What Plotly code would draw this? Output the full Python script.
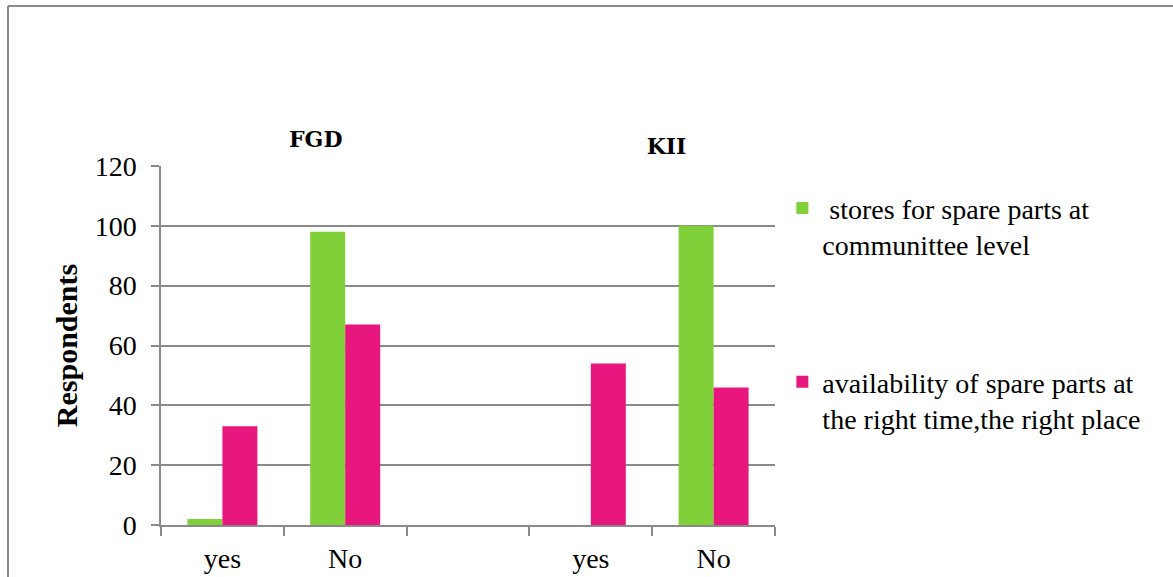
import plotly.graph_objects as go

categories = ["yes", "No", "", "yes", "No"]
positions = [0, 1, 2, 3, 4]
stores = [2, 98, None, 0, 100]
availability = [33, 67, None, 54, 46]
series_names = [" stores for spare parts at<br>communittee level",
                "availability of spare parts at<br>the right time,the right place"]
y_ticks = [0, 20, 40, 60, 80, 100, 120]

GREEN = "#80D03A"
PINK = "#E8177D"
GRID = "#8A8A8A"
FONT = "Liberation Serif, Times New Roman, serif"

fig = go.Figure()
fig.add_trace(go.Bar(x=positions, y=stores, name=series_names[0],
                     marker=dict(color=GREEN, line=dict(width=0)), legendgroup="a"))
fig.add_trace(go.Bar(x=positions, y=availability, name=series_names[1],
                     marker=dict(color=PINK, line=dict(width=0)), legendgroup="b"))

fig.update_layout(
    width=1173, height=577,
    margin=dict(l=161, r=398, t=166, b=52, autoexpand=False),
    paper_bgcolor="white", plot_bgcolor="white",
    barmode="group", bargap=0.43, bargroupgap=0,
    font=dict(family=FONT, size=28, color="black"),
    showlegend=True,
    legend=dict(x=1.012, xanchor="left", y=0.952, yanchor="top",
                valign="top", tracegroupgap=98,
                font=dict(family=FONT, size=28, color="black"),
                bgcolor="rgba(0,0,0,0)"),
    xaxis=dict(range=[-0.5, 4.5], tickvals=positions, ticktext=categories,
               ticks="", showgrid=False, zeroline=False, automargin=False,
               showline=True, linecolor=GRID, linewidth=1.5,
               tickfont=dict(family=FONT, size=28), ticklabelstandoff=8,
               minor=dict(tickvals=[-0.5, 0.5, 1.5, 2.5, 3.5, 4.5], ticks="outside",
                          ticklen=9, tickcolor=GRID, tickwidth=1.5, showgrid=False),
               fixedrange=True),
    yaxis=dict(range=[0, 120], tickvals=y_ticks, ticks="outside", ticklen=8,
               tickcolor=GRID, tickwidth=1.5, automargin=False,
               showgrid=True, gridcolor=GRID, gridwidth=1.5, zeroline=False,
               showline=True, linecolor=GRID, linewidth=1.5,
               tickfont=dict(family=FONT, size=28), ticklabelstandoff=9,
               title=dict(text="<b>Respondents</b>", font=dict(family=FONT, size=30),
                          standoff=8),
               fixedrange=True),
)

fig.add_annotation(text="<b>FGD</b>", xref="paper", yref="paper", x=0.2524, y=1.075,
                   xanchor="center", yanchor="middle", showarrow=False,
                   font=dict(family="DejaVu Serif", size=22, color="black"))
fig.add_annotation(text="<b>KII</b>", xref="paper", yref="paper", x=0.8225, y=1.0557,
                   xanchor="center", yanchor="middle", showarrow=False,
                   font=dict(family="DejaVu Serif", size=22, color="black"),
                   bgcolor="white", width=51, height=44)

# outer chart frame (top and left edges)
fig.add_shape(type="line", xref="paper", yref="paper", x0=-0.2492, x1=1.7, y0=1.4457, y1=1.4457,
              line=dict(color=GRID, width=2))
fig.add_shape(type="line", xref="paper", yref="paper", x0=-0.2492, x1=-0.2492, y0=1.4457, y1=-0.2,
              line=dict(color=GRID, width=2))

fig.write_html("out.html")
